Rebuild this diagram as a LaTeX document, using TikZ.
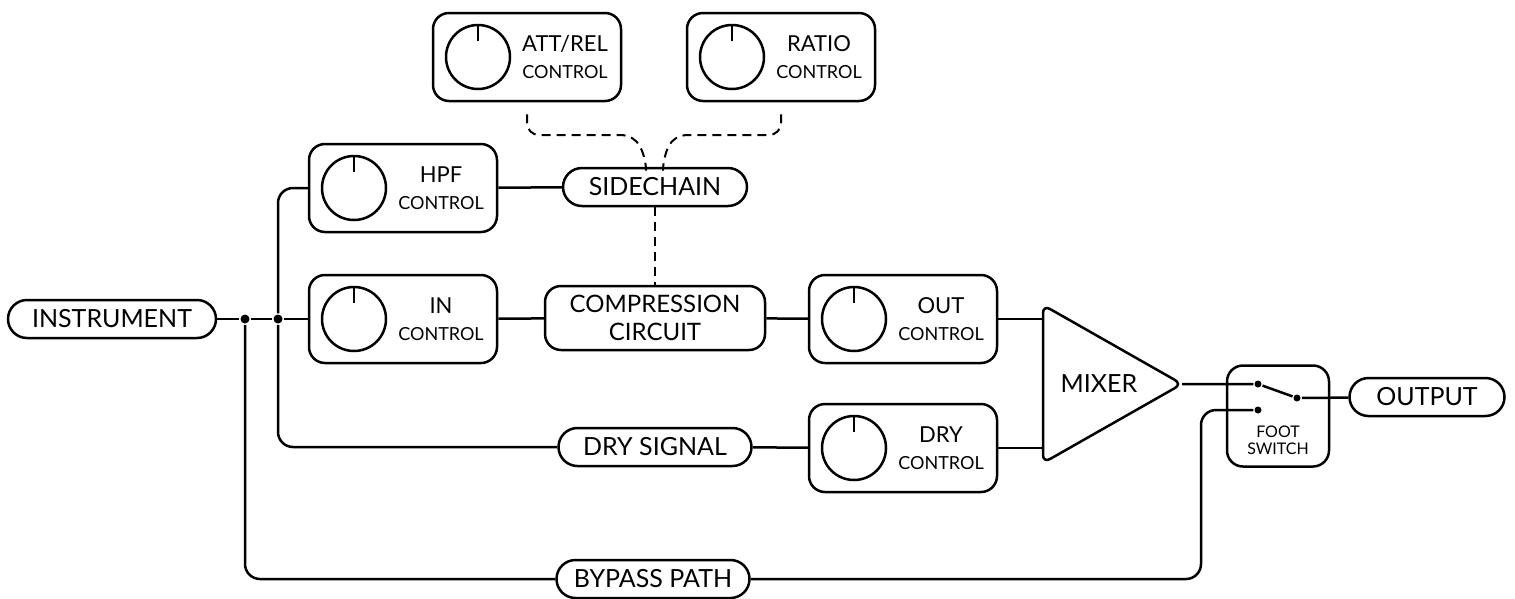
\documentclass[tikz,border=0pt]{standalone}
\usepackage{fontspec}
\setmainfont{Lato}

\begin{document}
\begin{tikzpicture}[x=1pt, y=-1pt, line width=2.5pt, line join=round]
        \tikzstyle{every node}=[font=\fontsize{25}{25}\selectfont, inner sep=0pt]
        \tikzstyle{pill}=[draw, rounded corners=19pt, minimum height=38pt]
        \tikzstyle{block}=[draw, rounded corners=16pt, minimum width=188pt, minimum height=88pt]
        \tikzstyle{knob}=[draw, circle, minimum size=64pt]
        \tikzstyle{dot}=[fill, circle, minimum size=9pt]
        \tikzstyle{wire}=[rounded corners=15pt]
        \tikzstyle{ctrl}=[dash pattern=on 9pt off 6pt, line width=2pt, rounded corners=12pt]

        \useasboundingbox (0,0) rectangle (1515,598);

% knob controls
        \foreach \name/\x/\y/\lbl in {hpf/403/188/HPF, in/403/319/IN, out/903/319/OUT, dry/903/448/DRY, att/527/57/{ATT/REL}, ratio/781/57/RATIO}{
            \node[block] (\name) at (\x,\y) {};
            \node[knob] (\name-k) at ([xshift=-49pt]\name.center) {};
            \draw (\name-k.north) -- ++(0,17);
            \node[align=center, font=\fontsize{22}{27}\selectfont] at ([xshift=38pt]\name.center) {\lbl\\{\fontsize{18}{27}\selectfont CONTROL}};
        }

        \node[pill, minimum width=208pt] (instr) at (112,319) {INSTRUMENT};
        \node[pill, minimum width=184pt] (side) at (655,187) {SIDECHAIN};
        \node[pill, minimum width=193pt] (drysig) at (655,447) {DRY SIGNAL};
        \node[pill, minimum width=193pt] (bypass) at (653,579) {BYPASS PATH};
        \node[pill, minimum width=155pt] (output) at (1427,397) {OUTPUT};
        \node[draw, rounded corners=16pt, minimum width=220pt, minimum height=64pt, align=center, font=\fontsize{24}{28}\selectfont] (comp) at (655,318) {COMPRESSION\\CIRCUIT};

% mixer and foot switch
        \draw[rounded corners=8pt] (1043,305) coordinate (mixa) -- (1182,384) coordinate (mixc) -- (1043,463) -- cycle;
        \node (mixer) at (1099,384) {MIXER};
        \node[draw, rounded corners=16pt, minimum width=102pt, minimum height=101pt] (foot) at (1278,416) {};
        \node[align=center, font=\fontsize{16}{17}\selectfont] at (1278,440) {FOOT\\SWITCH};
        \node[dot, minimum size=7pt] (swa) at (1258,384) {};
        \node[dot, minimum size=7pt] (swb) at (1297,398) {};
        \node[dot, minimum size=7pt] (swc) at (1258,410) {};
        \coordinate (bpturn) at (1201,410);

% signal wires
        \node[dot] (j1) at (245,319) {};
        \node[dot] (j2) at (278,319) {};
        \draw (instr) -- (j1) -- (j2) -- (in);
        \draw[wire] (hpf) -| (j2) |- (drysig);
        \draw[wire] (j1) |- (bypass);
        \draw[wire] (bypass) -| (bpturn) -- (swc);
        \draw (hpf) -- (side);
        \draw (in) -- (comp) -- (out);
        \draw (drysig) -- (dry);
        \draw (out.east) -- (out.east -| mixa);
        \draw (dry.east) -- (dry.east -| mixa);
        \draw (mixc) -- (swa) -- (swb) -- (output);

% control links
        \draw[ctrl] ([yshift=-12pt]att.south) |- (634,135) -- (646,158) -- ([xshift=-9pt]side.north);
        \draw[ctrl] ([yshift=-12pt]ratio.south) |- (674,135) -- (663,158) -- ([xshift=8pt]side.north);
        \draw[ctrl] (side) -- (comp);

    \end{tikzpicture}
\end{document}
